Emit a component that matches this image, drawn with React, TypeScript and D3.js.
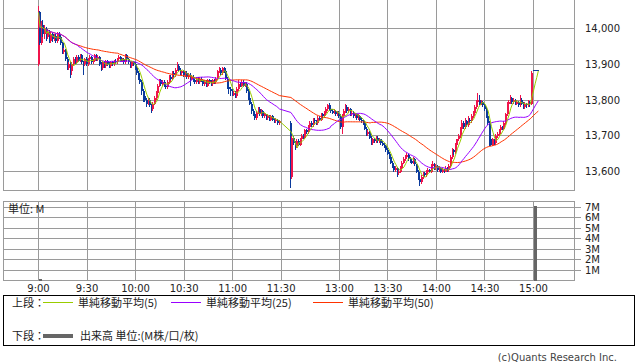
import React from "react";
import * as d3 from "d3";

// Trading sessions: start time and number of one-minute bars
const sessions: [string, number][] = [["9:00", 150], ["12:30", 154]];
const lunchSlots = 6;

const open = [
  13900,14045,13960,14010,13985,14000,13975,13990,13965,13985,
  13970,13980,13965,13985,13975,13960,13935,13940,13915,13890,
  13900,13880,13900,13915,13905,13920,13910,13925,13905,13900,
  13915,13900,13915,13920,13905,13910,13925,13915,13920,13900,
  13890,13905,13895,13910,13900,13895,13905,13900,13910,13905,
  13915,13920,13910,13915,13905,13925,13915,13905,13895,13905,
  13900,13890,13875,13860,13850,13825,13810,13800,13790,13800,
  13785,13775,13790,13805,13820,13840,13855,13845,13850,13840,
  13835,13850,13865,13860,13875,13870,13885,13895,13885,13875,
  13880,13870,13875,13865,13870,13860,13865,13855,13850,13860,
  13850,13860,13855,13845,13850,13840,13855,13850,13845,13855,
  13850,13860,13880,13885,13875,13890,13880,13860,13835,13830,
  13825,13815,13820,13810,13830,13845,13840,13850,13840,13845,
  13825,13805,13790,13770,13760,13750,13765,13775,13760,13770,
  13755,13760,13750,13755,13745,13755,13745,13740,13745,13735,
  13735,13585,13695,13680,13670,13685,13675,13690,13700,13695,
  13715,13710,13725,13735,13730,13745,13740,13735,13750,13745,
  13760,13755,13765,13775,13785,13775,13770,13765,13770,13760,
  13765,13755,13725,13755,13770,13780,13770,13775,13760,13765,
  13755,13760,13750,13755,13745,13740,13735,13720,13705,13710,
  13695,13680,13690,13685,13695,13685,13690,13680,13675,13670,
  13660,13650,13640,13625,13615,13605,13610,13595,13600,13610,
  13625,13635,13640,13645,13635,13630,13625,13635,13620,13600,
  13580,13570,13585,13595,13590,13600,13605,13600,13615,13620,
  13610,13615,13605,13610,13600,13605,13600,13610,13605,13615,
  13640,13660,13655,13675,13690,13700,13720,13735,13725,13740,
  13730,13745,13740,13755,13765,13780,13795,13800,13790,13795,
  13785,13775,13755,13735,13690,13675,13690,13680,13700,13705,
  13715,13725,13720,13735,13760,13790,13795,13805,13795,13800,
  13790,13795,13785,13800,13790,13780,13790,13785,13795,13790,
  13883,13883,13883,13883,
];

const high = [
  14062,14050,14020,14025,14010,14005,13995,13995,13990,13990,
  13985,13985,13990,13990,13980,13962,13945,13942,13920,13905,
  13905,13905,13920,13920,13925,13925,13930,13928,13910,13918,
  13920,13918,13925,13922,13915,13928,13928,13925,13922,13905,
  13908,13910,13912,13912,13905,13908,13908,13912,13915,13918,
  13925,13922,13918,13918,13928,13928,13918,13908,13908,13908,
  13905,13895,13880,13865,13855,13830,13815,13805,13805,13805,
  13790,13795,13810,13825,13845,13860,13860,13855,13855,13845,
  13855,13870,13870,13880,13880,13890,13905,13900,13890,13885,
  13885,13880,13880,13875,13875,13870,13870,13860,13865,13865,
  13865,13865,13860,13855,13855,13860,13860,13855,13860,13860,
  13865,13885,13893,13890,13893,13893,13885,13865,13840,13835,
  13830,13825,13825,13835,13855,13850,13855,13855,13850,13850,
  13830,13810,13795,13775,13765,13770,13780,13780,13775,13772,
  13765,13762,13760,13758,13758,13758,13750,13750,13748,13745,
  13740,13700,13700,13685,13690,13690,13695,13705,13705,13720,
  13720,13730,13740,13740,13750,13750,13745,13755,13755,13765,
  13765,13770,13780,13790,13792,13780,13775,13775,13772,13770,
  13768,13760,13760,13775,13790,13785,13780,13778,13770,13768,
  13765,13762,13760,13758,13750,13745,13740,13725,13715,13712,
  13700,13695,13695,13700,13700,13695,13692,13685,13680,13675,
  13665,13655,13645,13630,13620,13615,13612,13605,13615,13630,
  13640,13645,13652,13650,13640,13635,13640,13638,13622,13605,
  13585,13590,13600,13598,13605,13610,13608,13620,13630,13625,
  13620,13618,13615,13612,13610,13608,13615,13612,13620,13645,
  13665,13662,13680,13692,13705,13725,13745,13740,13750,13745,
  13755,13750,13760,13770,13785,13800,13820,13815,13800,13798,
  13790,13780,13760,13740,13695,13695,13692,13705,13710,13720,
  13730,13728,13740,13765,13795,13800,13815,13808,13805,13802,
  13800,13798,13815,13805,13795,13795,13792,13800,13798,13880,
  13885,13883,13883,13883,
];

const low = [
  13895,13955,13955,13975,13970,13965,13970,13960,13960,13962,
  13965,13960,13960,13970,13955,13930,13930,13910,13885,13885,
  13862,13870,13895,13900,13900,13905,13905,13900,13870,13895,
  13895,13895,13910,13900,13900,13905,13910,13910,13895,13880,
  13885,13890,13890,13895,13890,13890,13895,13895,13900,13900,
  13910,13905,13905,13900,13900,13910,13900,13890,13890,13895,
  13885,13870,13855,13845,13815,13795,13795,13780,13785,13780,
  13763,13770,13785,13800,13815,13835,13840,13840,13835,13830,
  13830,13845,13855,13855,13865,13865,13880,13880,13870,13870,
  13865,13865,13860,13860,13840,13855,13850,13845,13845,13845,
  13845,13850,13840,13840,13835,13835,13845,13840,13840,13845,
  13845,13855,13875,13870,13870,13875,13855,13830,13818,13810,
  13810,13810,13805,13805,13825,13835,13835,13835,13835,13820,
  13800,13785,13760,13755,13745,13745,13760,13755,13755,13750,
  13750,13745,13745,13740,13740,13740,13735,13735,13730,13730,
  13555,13580,13675,13660,13665,13670,13670,13685,13690,13690,
  13705,13705,13720,13725,13725,13735,13730,13730,13740,13740,
  13750,13750,13760,13770,13770,13765,13760,13760,13755,13755,
  13750,13720,13705,13750,13765,13765,13765,13755,13755,13750,
  13750,13745,13745,13740,13735,13730,13715,13700,13700,13690,
  13675,13675,13680,13680,13680,13680,13675,13670,13665,13655,
  13645,13635,13620,13610,13600,13600,13585,13590,13595,13605,
  13620,13630,13635,13630,13625,13620,13620,13615,13595,13575,
  13560,13565,13580,13585,13585,13595,13595,13595,13610,13605,
  13605,13600,13600,13595,13595,13595,13598,13600,13600,13610,
  13635,13645,13650,13670,13685,13695,13715,13720,13720,13725,
  13725,13735,13735,13750,13760,13775,13790,13785,13785,13780,
  13770,13750,13730,13670,13670,13670,13675,13675,13695,13700,
  13710,13715,13715,13730,13755,13785,13790,13790,13790,13785,
  13785,13780,13780,13785,13775,13775,13778,13780,13780,13785,
  13880,13883,13883,13883,
];

const close = [
  14045,13960,14010,13985,14000,13975,13990,13965,13985,13970,
  13980,13965,13985,13975,13960,13935,13940,13915,13890,13900,
  13880,13900,13915,13905,13920,13910,13925,13905,13900,13915,
  13900,13915,13920,13905,13910,13925,13915,13920,13900,13890,
  13905,13895,13910,13900,13895,13905,13900,13910,13905,13915,
  13920,13910,13915,13905,13925,13915,13905,13895,13905,13900,
  13890,13875,13860,13850,13825,13810,13800,13790,13800,13785,
  13775,13790,13805,13820,13840,13855,13845,13850,13840,13835,
  13850,13865,13860,13875,13870,13885,13895,13885,13875,13880,
  13870,13875,13865,13870,13860,13865,13855,13850,13860,13850,
  13860,13855,13845,13850,13840,13855,13850,13845,13855,13850,
  13860,13880,13885,13875,13890,13880,13860,13835,13830,13825,
  13815,13820,13810,13830,13845,13840,13850,13840,13845,13825,
  13805,13790,13770,13760,13750,13765,13775,13760,13770,13755,
  13760,13750,13755,13745,13755,13745,13740,13745,13735,13740,
  13600,13695,13680,13670,13685,13675,13690,13700,13695,13715,
  13710,13725,13735,13730,13745,13740,13735,13750,13745,13760,
  13755,13765,13775,13785,13775,13770,13765,13770,13760,13765,
  13755,13725,13755,13770,13780,13770,13775,13760,13765,13755,
  13760,13750,13755,13745,13740,13735,13720,13705,13710,13695,
  13680,13690,13685,13695,13685,13690,13680,13675,13670,13660,
  13650,13640,13625,13615,13605,13610,13595,13600,13610,13625,
  13635,13640,13645,13635,13630,13625,13635,13620,13600,13580,
  13570,13585,13595,13590,13600,13605,13600,13615,13620,13610,
  13615,13605,13610,13600,13605,13600,13610,13605,13615,13640,
  13660,13655,13675,13690,13700,13720,13735,13725,13740,13730,
  13745,13740,13755,13765,13780,13795,13800,13790,13795,13785,
  13775,13755,13735,13690,13675,13690,13680,13700,13705,13715,
  13725,13720,13735,13760,13790,13795,13805,13795,13800,13790,
  13795,13785,13800,13790,13780,13790,13785,13795,13790,13875,
  13883,13883,13883,13883,
];

// Volume (M) — only the visible bars
const volumeTimes = ["9:00", "15:00"];
const volumeValues = [0.1, 7.1];

const priceTicks = [13600, 13700, 13800, 13900, 14000];
const timeTicks = ["9:00", "9:30", "10:00", "10:30", "11:00", "11:30", "13:00", "13:30", "14:00", "14:30", "15:00"];
const volumeTicks = [1, 2, 3, 4, 5, 6, 7];
const volumeTickLabels = ["1M", "2M", "3M", "4M", "5M", "6M", "7M"];

const maPeriods = [50, 25, 5];
const maColors = ["#ff3300", "#9900ff", "#99cc00"];
const legendMA = [
  { label: "単純移動平均(5)", color: "#99cc00" },
  { label: "単純移動平均(25)", color: "#9900ff" },
  { label: "単純移動平均(50)", color: "#ff3300" },
];

const UP = "#f0144b";
const DOWN = "#0a3a9c";
const GRID = "#9a9a9a";
const NUM_FONT = "'DejaVu Sans', sans-serif";
const JP_FONT = "'Noto Sans CJK JP', sans-serif";

const toMin = (t: string) => {
  const [h, m] = t.split(":").map(Number);
  return h * 60 + m;
};
const slotOf = (t: string) => {
  const mm = toMin(t);
  const gap = toMin("12:30") - toMin("11:30") - lunchSlots;
  return mm >= toMin("12:30") ? mm - toMin("9:00") - gap : mm - toMin("9:00");
};
const crisp = (v: number) => Math.round(v - 0.5) + 0.5;

export default function App() {
  const candles: { slot: number; o: number; h: number; l: number; c: number }[] = [];
  let idx = 0;
  sessions.forEach(([start, count]) => {
    const s0 = slotOf(start);
    for (let k = 0; k < count; k++) {
      candles.push({ slot: s0 + k, o: open[idx], h: high[idx], l: low[idx], c: close[idx] });
      idx++;
    }
  });

  const x = d3.scaleLinear().domain([slotOf("9:00"), slotOf("15:00")]).range([38.5, 533.5]);
  const y = d3.scaleLinear().domain([13600, 14000]).range([171.5, 28.5]);
  const yv = d3.scaleLinear().domain([0, 7]).range([280.5, 207.5]);

  const top = { x0: 3.5, x1: 574.5, y0: -0.5, y1: 190.5 };
  const bot = { x0: 3.5, x1: 574.5, y0: 201.5, y1: 280.5 };

  const maSeries = maPeriods.map((n) =>
    candles.map((c, i) => ({
      slot: c.slot,
      v: d3.mean(candles.slice(Math.max(0, i - n + 1), i + 1), (d) => d.c) as number,
    }))
  );
  const line = d3
    .line<{ slot: number; v: number }>()
    .x((d) => x(d.slot))
    .y((d) => y(d.v));

  return (
    <svg
      width={638}
      height={362}
      style={{ position: "absolute", left: 0, top: 0, background: "#fff" }}
    >
      <rect x={0} y={0} width={638} height={362} fill="#fff" />
      {/* top panel grid */}
      <g stroke={GRID} strokeWidth={1} shapeRendering="crispEdges">
        {priceTicks.map((p) => (
          <line key={p} x1={top.x0} x2={top.x1} y1={crisp(y(p))} y2={crisp(y(p))} />
        ))}
        {timeTicks.map((t) => (
          <line key={t} x1={crisp(x(slotOf(t)))} x2={crisp(x(slotOf(t)))} y1={top.y0} y2={top.y1} />
        ))}
        <rect x={top.x0} y={top.y0} width={top.x1 - top.x0} height={top.y1 - top.y0} fill="none" />
      </g>
      {/* price labels */}
      <g fontFamily={NUM_FONT} fontSize={10} fill="#222">
        {priceTicks.map((p) => (
          <text key={p} x={585} y={crisp(y(p)) + 3.5}>
            {d3.format(",")(p)}
          </text>
        ))}
      </g>
      {/* candles */}
      <g shapeRendering="crispEdges">
        {candles.map((c, i) => {
          const cx = x(c.slot);
          const col = c.c > c.o ? UP : DOWN;
          const x0 = Math.floor(cx - 0.5);
          const yt = Math.min(y(c.o), y(c.c));
          const yb = Math.max(y(c.o), y(c.c));
          return (
            <g key={i} fill={col} stroke="none">
              <rect x={x0} y={y(c.h)} width={1} height={Math.max(1, y(c.l) - y(c.h))} />
              <rect x={x0} y={yt} width={2} height={Math.max(1, yb - yt)} />
            </g>
          );
        })}
      </g>
      {/* moving averages */}
      <g fill="none" strokeWidth={1}>
        {maSeries.map((s, i) => (
          <path key={i} d={line(s) || ""} stroke={maColors[i]} />
        ))}
      </g>

      {/* bottom panel */}
      <g stroke={GRID} strokeWidth={1} shapeRendering="crispEdges">
        {volumeTicks.map((v) => (
          <line key={v} x1={bot.x0} x2={bot.x1 + 6} y1={crisp(yv(v))} y2={crisp(yv(v))} />
        ))}
        {timeTicks.map((t) => (
          <line key={t} x1={crisp(x(slotOf(t)))} x2={crisp(x(slotOf(t)))} y1={bot.y0} y2={bot.y1} />
        ))}
        <rect x={bot.x0} y={bot.y0} width={bot.x1 - bot.x0} height={bot.y1 - bot.y0} fill="none" />
      </g>
      <g shapeRendering="crispEdges" fill="#666">
        {volumeTimes.map((t, i) => (
          <rect
            key={t}
            x={x(slotOf(t)) + 0.5}
            y={yv(volumeValues[i])}
            width={2.5}
            height={yv(0) - yv(volumeValues[i])}
          />
        ))}
      </g>
      <g fontFamily={NUM_FONT} fontSize={10} fill="#222">
        {volumeTicks.map((v, i) => (
          <text key={v} x={585} y={crisp(yv(v)) + 3.5}>
            {volumeTickLabels[i]}
          </text>
        ))}
        {timeTicks.map((t) => (
          <text key={t} x={x(slotOf(t))} y={292} textAnchor="middle">
            {t}
          </text>
        ))}
      </g>
      <text x={8} y={213} fontFamily={JP_FONT} fontSize={11} fill="#222">
        単位: M
      </text>

      {/* legend */}
      <rect x={3.5} y={295.5} width={631} height={50} fill="none" stroke="#000" strokeWidth={1} shapeRendering="crispEdges" />
      <g fontFamily={JP_FONT} fontSize={11} fill="#222">
        <text x={12} y={307}>上段：</text>
        {legendMA.map((m, i) => {
          const lx = [43, 171, 313][i];
          return (
            <g key={i}>
              <line x1={lx} x2={lx + 30} y1={302.5} y2={302.5} stroke={m.color} strokeWidth={1} />
              <text x={lx + 35} y={307}>{m.label}</text>
            </g>
          );
        })}
        <text x={12} y={340}>下段：</text>
        <line x1={43} x2={73} y1={336} y2={336} stroke="#666" strokeWidth={4} />
        <text x={80} y={340}>出来高 単位:(M株/口/枚)</text>
      </g>
      <text x={617} y={361} textAnchor="end" fontFamily={NUM_FONT} fontSize={10} fill="#444">
        (c)Quants Research Inc.
      </text>
    </svg>
  );
}
